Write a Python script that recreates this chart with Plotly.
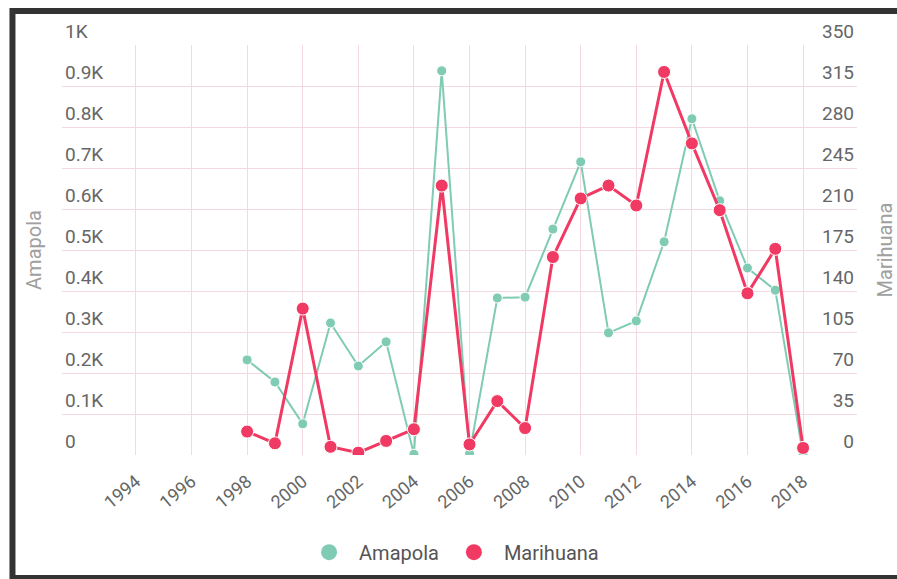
import plotly.graph_objects as go

years = list(range(1998, 2019))
amapola = [232, 178, 76, 322, 217, 276, 2, 937, 3, 383, 385, 551, 715, 298, 327, 520, 820, 620, 456, 402, 0]
marihuana = [20, 10, 125, 7, 2, 12, 22, 230, 9, 46, 23, 169, 219, 230, 213, 327, 266, 209, 138, 176, 6]
x_ticks = list(range(1994, 2019, 2))
left_ticks = [0, 100, 200, 300, 400, 500, 600, 700, 800, 900, 1000]
left_labels = ["0", "0.1K", "0.2K", "0.3K", "0.4K", "0.5K", "0.6K", "0.7K", "0.8K", "0.9K", "1K"]
right_ticks = [0, 35, 70, 105, 140, 175, 210, 245, 280, 315, 350]

TEAL = "#7fcbb3"
RED = "#f03a63"
GRID = "#f4d9e0"
FONT = "Roboto"

fig = go.Figure()
fig.add_trace(go.Scatter(
    x=years, y=amapola, name="Amapola", mode="lines+markers",
    line=dict(color=TEAL, width=2),
    marker=dict(color=TEAL, size=10, line=dict(color="white", width=1)),
    yaxis="y", showlegend=False))
fig.add_trace(go.Scatter(
    x=years, y=marihuana, name="Marihuana", mode="lines+markers",
    line=dict(color=RED, width=3),
    marker=dict(color=RED, size=13, line=dict(color="white", width=1)),
    yaxis="y2", showlegend=False))
# legend-only entries (circle symbols)
fig.add_trace(go.Scatter(x=[None], y=[None], name="Amapola", mode="markers",
                         marker=dict(color=TEAL, size=20)))
fig.add_trace(go.Scatter(x=[None], y=[None], name="Marihuana", mode="markers",
                         marker=dict(color=RED, size=20)))

fig.update_layout(
    width=897, height=579,
    margin=dict(l=62, r=40, t=45, b=124, autoexpand=False),
    paper_bgcolor="white", plot_bgcolor="white",
    font=dict(family=FONT, color="#666", size=19),
    xaxis=dict(
        range=[1991.34, 2019.94], tickmode="array", tickvals=x_ticks,
        ticktext=[str(v) for v in x_ticks], tickangle=-40, automargin=False,
        showgrid=True, gridcolor=GRID, gridwidth=1, zeroline=False,
        showline=False, ticks="outside", ticklen=8, tickcolor="rgba(0,0,0,0)",
        tickfont=dict(size=18, color="#666")),
    yaxis=dict(
        range=[0, 1000], tickmode="array", tickvals=left_ticks, ticktext=left_labels,
        ticklabelposition="inside top", ticklabeloverflow="allow", automargin=False,
        showgrid=True, gridcolor=GRID, gridwidth=1, zeroline=False, showline=False,
        tickfont=dict(size=19, color="#666"),
        title=dict(text="Amapola", font=dict(size=20, color="#a0a0a0"), standoff=18)),
    yaxis2=dict(
        range=[0, 350], tickmode="array", tickvals=right_ticks,
        overlaying="y", side="right", automargin=False,
        ticklabelposition="inside top", ticklabeloverflow="allow",
        showgrid=False, zeroline=False, showline=False,
        tickfont=dict(size=19, color="#666"),
        title=dict(text="Marihuana", font=dict(size=20, color="#a0a0a0"), standoff=42)),
    legend=dict(orientation="h", x=0.49, xanchor="center", y=-0.237, yanchor="middle",
                font=dict(size=20, color="#555"), itemsizing="trace",
                itemwidth=50, tracegroupgap=0),
    shapes=[dict(type="path", xref="paper", yref="paper",
                 path="M 1.06 1.083 L -0.0623 1.083 L -0.0623 -0.3 L 1.06 -0.3",
                 line=dict(color="#333", width=6))],
)

fig.write_html("out.html")
